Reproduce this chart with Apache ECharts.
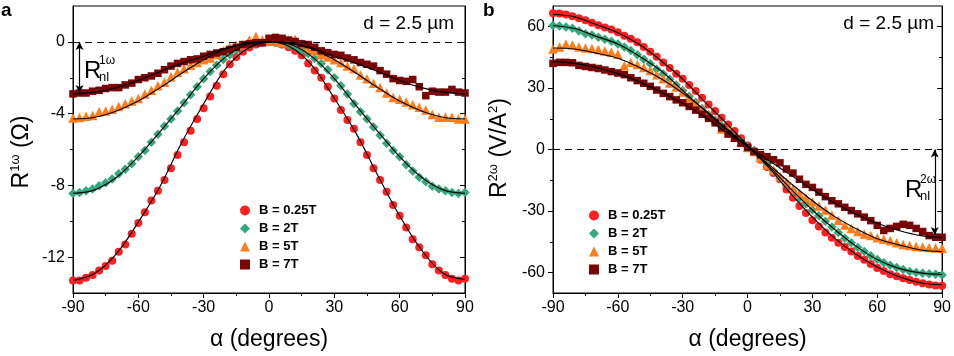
<!DOCTYPE html>
<html><head><meta charset="utf-8">
<script src="https://cdn.jsdelivr.net/npm/echarts@6/dist/echarts.min.js"></script>
<style>html,body{margin:0;padding:0;background:#fff}#c{width:954px;height:356px}</style>
</head><body><div id="c"></div>
<script>
// ---------- data ----------
const angles = [-90,-87,-84,-81,-78,-75,-72,-69,-66,-63,-60,-57,-54,-51,-48,-45,-42,-39,-36,-33,-30,-27,-24,-21,-18,-15,-12,-9,-6,-3,0,3,6,9,12,15,18,21,24,27,30,33,36,39,42,45,48,51,54,57,60,63,66,69,72,75,78,81,84,87,90];
const fitAngles = [-90,-80,-70,-60,-50,-40,-30,-20,-10,0,10,20,30,40,50,60,70,80,90];
const seriesNames = ['B = 0.25T','B = 2T','B = 5T','B = 7T'];
const xTickLabels = [-90,-60,-30,0,30,60,90];
const yTicksA = [-12,-8,-4,0];
const yMinorA = [-10,-6,-2];
const yTicksB = [-60,-30,0,30,60];
const yMinorB = [-45,-15,15,45];

// panel a : R^1w (Ohm)
const a_B025 = [-13.3,-13.3,-13.15,-13.0,-12.75,-12.5,-12.2,-11.7,-11.3,-10.7,-10.1,-9.5,-8.85,-8.3,-7.7,-7.05,-6.3,-5.6,-4.95,-4.3,-3.7,-3.05,-2.45,-1.8,-1.25,-0.85,-0.55,-0.32,-0.15,-0.05,0.0,-0.05,-0.15,-0.3,-0.5,-0.75,-1.2,-1.6,-2.0,-2.5,-3.15,-3.8,-4.35,-4.85,-5.6,-6.3,-7.05,-7.7,-8.35,-9.1,-9.7,-10.35,-11.0,-11.45,-11.9,-12.4,-12.75,-13.0,-13.2,-13.3,-13.2];
const a_B2 = [-8.45,-8.4,-8.3,-8.2,-8.02,-7.85,-7.65,-7.35,-7.1,-6.8,-6.4,-6.05,-5.6,-5.15,-4.7,-4.3,-3.85,-3.4,-2.95,-2.5,-2.05,-1.65,-1.3,-0.98,-0.72,-0.45,-0.25,-0.12,-0.05,0.0,0.0,-0.02,-0.08,-0.18,-0.3,-0.45,-0.65,-0.92,-1.2,-1.55,-2.0,-2.45,-2.9,-3.45,-3.9,-4.3,-4.75,-5.2,-5.65,-6.05,-6.4,-6.85,-7.2,-7.55,-7.8,-8.05,-8.2,-8.3,-8.4,-8.45,-8.4];
const a_B5 = [-4.25,-4.22,-4.15,-4.1,-3.9,-3.85,-3.75,-3.6,-3.45,-3.3,-3.15,-2.9,-2.7,-2.45,-2.25,-1.95,-1.7,-1.5,-1.3,-1.15,-1.0,-0.9,-0.7,-0.5,-0.3,-0.2,-0.15,0.1,0.3,0.1,0.05,0.05,-0.05,0.1,0.15,-0.1,-0.35,-0.5,-0.7,-0.85,-1.0,-1.15,-1.35,-1.5,-1.85,-2.05,-2.3,-2.55,-2.85,-3.1,-3.2,-3.35,-3.5,-3.65,-3.8,-4.05,-4.2,-4.2,-4.2,-4.3,-4.3];
const a_B7 = [-2.9,-2.85,-2.85,-2.75,-2.7,-2.6,-2.55,-2.55,-2.4,-2.3,-2.1,-2.0,-1.9,-1.75,-1.55,-1.35,-1.2,-1.1,-1.0,-0.95,-0.8,-0.7,-0.62,-0.55,-0.42,-0.3,-0.15,-0.1,-0.05,-0.05,0.2,0.25,0.2,0.1,0.02,-0.1,-0.15,-0.3,-0.5,-0.6,-0.7,-0.75,-0.9,-1.0,-1.15,-1.25,-1.35,-1.6,-1.8,-2.05,-2.15,-2.2,-2.1,-2.5,-3.0,-2.75,-2.8,-2.8,-2.65,-2.8,-2.85];
const a_fit025 = [-13.3,-12.9,-11.8,-10.05,-8.05,-5.6,-3.45,-1.5,-0.38,0,-0.3,-1.35,-3.15,-5.1,-7.45,-9.7,-11.6,-12.9,-13.25];
const a_fit2 = [-8.45,-8.25,-7.55,-6.4,-5.0,-3.55,-2.05,-0.85,-0.15,0,-0.15,-0.85,-2.05,-3.55,-5.0,-6.4,-7.55,-8.25,-8.45];
const a_fit5 = [-4.3,-4.2,-3.85,-3.3,-2.55,-1.75,-1.0,-0.4,-0.08,0,-0.08,-0.4,-1.0,-1.75,-2.55,-3.3,-3.85,-4.2,-4.3];
const a_fit7 = [-2.9,-2.8,-2.55,-2.15,-1.65,-1.2,-0.8,-0.35,-0.08,0,-0.08,-0.35,-0.8,-1.2,-1.65,-2.15,-2.55,-2.8,-2.9];

// panel b : R^2w (V/A^2)
const b_B025 = [66.5,66.3,65.8,65.0,64.0,63.0,61.8,60.6,59.5,58.5,57.2,55.5,54.0,52.3,50.0,47.7,45.2,42.5,39.8,37.0,34.5,31.5,28.5,25.2,22.0,18.8,15.5,12.2,9.0,5.5,2.0,-1.0,-5.0,-8.5,-11.5,-14.5,-19.5,-23.5,-27.5,-31.0,-34.5,-37.5,-40.5,-43.0,-45.5,-47.5,-49.8,-52.0,-53.8,-55.8,-57.8,-59.3,-60.8,-61.8,-62.8,-63.6,-64.5,-65.3,-65.9,-66.3,-66.5];
const b_B2 = [60.5,60.2,59.8,59.2,57.8,56.5,55.8,54.8,53.8,52.8,51.5,50.0,48.3,46.2,44.0,41.8,39.2,36.8,34.3,31.5,28.8,26.0,23.0,20.0,17.0,14.5,11.5,9.0,6.5,4.0,1.5,-0.5,-3.5,-7.0,-10.5,-14.0,-17.0,-20.3,-23.5,-26.6,-29.5,-32.3,-35.0,-37.8,-40.5,-43.3,-45.5,-47.8,-49.8,-51.8,-53.7,-55.2,-56.5,-57.6,-58.5,-59.5,-60.0,-60.4,-60.6,-60.8,-61.2];
const b_B5 = [49.0,50.0,51.5,51.0,50.0,49.5,49.3,48.8,48.0,47.5,46.5,40.8,42.5,41.5,40.0,38.5,36.5,34.5,32.5,30.5,28.0,25.3,22.5,19.6,17.0,14.5,10.0,9.5,6.0,3.5,1.0,-1.0,-4.0,-7.5,-10.0,-13.0,-16.0,-19.3,-21.5,-23.5,-25.5,-27.5,-29.5,-32.0,-34.5,-36.8,-38.5,-40.0,-41.2,-42.0,-43.0,-43.8,-44.5,-45.5,-46.3,-46.8,-47.3,-47.6,-47.8,-48.0,-48.2];
const b_B7 = [42.0,42.5,42.5,42.3,41.0,40.5,40.0,39.5,38.8,38.0,37.3,36.5,35.0,33.6,32.3,30.8,29.0,27.4,25.8,24.2,22.8,21.0,19.2,17.2,15.2,13.0,10.5,7.5,5.5,3.0,1.0,-1.0,-2.5,-3.5,-5.0,-6.5,-9.5,-11.5,-14.5,-17.0,-18.5,-20.8,-23.0,-25.0,-26.5,-28.2,-29.8,-31.4,-33.0,-34.7,-37.0,-39.5,-38.5,-37.5,-36.5,-37.0,-38.5,-40.0,-42.0,-42.8,-42.8];
const b_fit025 = [66.0,64.7,61.0,57.0,51.2,43.3,34.3,23.5,13.0,2.0,-9.0,-21.5,-33.0,-43.0,-51.0,-57.3,-62.0,-65.0,-66.0];
const b_fit2 = [60.5,59.0,55.2,51.5,45.5,38.4,28.8,19.2,9.8,1.5,-8.2,-19.2,-29.5,-38.7,-47.0,-53.7,-58.0,-60.2,-61.0];
const b_fit5 = [49.5,49.0,47.0,44.5,40.0,34.5,27.5,19.5,10.5,1.5,-7.5,-16.5,-25.0,-32.5,-38.5,-43.5,-46.5,-49.0,-49.8];
const b_fit7 = [43.0,42.0,40.0,37.0,33.0,28.0,22.5,16.0,8.5,1.5,-5.5,-12.5,-19.5,-26.0,-31.5,-36.0,-39.5,-42.0,-43.0];

// annotation values (R_nl arrows)
const a_Rnl = {x:-87, top:0, bottom:-2.85};
const b_Rnl = {x:86.6, top:0, bottom:-41.7};

// ---------- styling ----------
const FONT = '"Liberation Sans", Arial, sans-serif';
const colors = ['#ff1f1f','#33a87d','#ff7d1a','#7a0606'];
const symbols = ['circle','diamond','triangle','rect'];
const symSizes = [8,9.5,9.5,7.5];

const pair = (xs, ys) => xs.map((x,i)=>[x, ys[i]]);

function xAx(g){
  return {gridIndex:g,type:'value',min:-90,max:90,interval:30,position:'bottom',
    axisLine:{show:true,onZero:false,lineStyle:{color:'#000',width:1}},
    axisTick:{show:true,length:5,lineStyle:{color:'#000'}},
    minorTick:{show:true,splitNumber:2,length:3,lineStyle:{color:'#000'}},
    axisLabel:{fontSize:16,color:'#000',margin:7,fontFamily:FONT},
    splitLine:{show:false},minorSplitLine:{show:false},
    name:'α (degrees)',nameLocation:'middle',nameGap:35,
    nameTextStyle:{fontSize:23,color:'#000',fontFamily:FONT}};
}
function yAxes(g,min,max,major,minor){
  const base = {gridIndex:g,type:'value',min:min,max:max,splitLine:{show:false}};
  return [
    Object.assign({},base,{position:'left',axisLine:{show:true,onZero:false,lineStyle:{color:'#000'}},
      axisTick:{show:true,length:5,customValues:major,lineStyle:{color:'#000'}},
      axisLabel:{show:true,customValues:major,fontSize:16,color:'#000',margin:8,fontFamily:FONT}}),
    Object.assign({},base,{position:'left',axisLine:{show:false,onZero:false},
      axisTick:{show:true,length:3,customValues:minor,lineStyle:{color:'#000'}},
      axisLabel:{show:false}}),
    Object.assign({},base,{position:'right',axisLine:{show:true,onZero:false,lineStyle:{color:'#000'}},
      axisTick:{show:true,inside:true,length:5,customValues:major,lineStyle:{color:'#000'}},
      axisLabel:{show:false}}),
    Object.assign({},base,{position:'right',axisLine:{show:false,onZero:false},
      axisTick:{show:true,inside:true,length:3,customValues:minor,lineStyle:{color:'#000'}},
      axisLabel:{show:false}})
  ];
}

function scatter(name,data,i,xi,yi){
  return {name:name,type:'scatter',xAxisIndex:xi,yAxisIndex:yi,data:data,
    symbol:symbols[i],symbolSize:symSizes[i],itemStyle:{color:colors[i],opacity:1},z:3,silent:true};
}
function fit(name,data,xi,yi,extra){
  return Object.assign({name:name,type:'line',xAxisIndex:xi,yAxisIndex:yi,data:data,
    smooth:0.35,showSymbol:false,symbol:'none',
    lineStyle:{color:'#000',width:1.15},z:5,silent:true},extra||{});
}
function refLines(rnl){
  return {markLine:{silent:true,animation:false,label:{show:false},
    data:[
      [{coord:[-90,0],symbol:'none',lineStyle:{type:[7,5],color:'#000',width:1.2}},{coord:[90,0],symbol:'none'}],
      [{coord:[rnl.x,rnl.top],symbol:'arrow',symbolSize:[6,8],lineStyle:{type:'solid',color:'#000',width:1.2}},
       {coord:[rnl.x,rnl.bottom],symbol:'arrow',symbolSize:[6,8]}]
    ]}};
}

const aVals = [a_B025,a_B2,a_B5,a_B7];
const aFits = [a_fit025,a_fit2,a_fit5,a_fit7];
const bVals = [b_B025,b_B2,b_B5,b_B7];
const bFits = [b_fit025,b_fit2,b_fit5,b_fit7];

const series = [];
seriesNames.forEach((n,i)=>series.push(scatter(n,pair(angles,aVals[i]),i,0,0)));
seriesNames.forEach((n,i)=>series.push(fit('fit a '+n,pair(fitAngles,aFits[i]),0,0,i===3?refLines(a_Rnl):null)));
seriesNames.forEach((n,i)=>series.push(scatter(n,pair(angles,bVals[i]),i,1,4)));
seriesNames.forEach((n,i)=>series.push(fit('fit b '+n,pair(fitAngles,bFits[i]),1,4,i===3?refLines(b_Rnl):null)));

function legend(left,top){
  return {data:seriesNames.map((n,i)=>({name:n,icon:symbols[i],itemStyle:{color:colors[i]}})),
    orient:'vertical',left:left,top:top,itemWidth:10,itemHeight:10,itemGap:5,
    selectedMode:false,
    textStyle:{fontSize:13,fontWeight:'bold',color:'#000',fontFamily:FONT,padding:[0,0,0,4]}};
}

const txt = (o) => ({type:'text',z:100,silent:true,style:Object.assign({fill:'#000',fontFamily:FONT},o.style),x:o.x,y:o.y,rotation:o.rotation||0});

const option = {
  animation:false,
  backgroundColor:'#fff',
  textStyle:{fontFamily:FONT},
  grid:[
    {left:73,top:6,width:392,height:288,show:true,borderColor:'#000',borderWidth:1,backgroundColor:'transparent'},
    {left:553,top:6,width:392,height:288,show:true,borderColor:'#000',borderWidth:1,backgroundColor:'transparent'}
  ],
  xAxis:[xAx(0),xAx(1)],
  yAxis:[].concat(yAxes(0,-14,2,yTicksA,yMinorA),yAxes(1,-70,70,yTicksB,yMinorB)),
  legend:[legend(235,199),legend(584,204)],
  series:series,
  graphic:[
    txt({x:1,y:11,style:{text:'a',fontSize:19,fontWeight:'bold',verticalAlign:'middle'}}),
    txt({x:483,y:11,style:{text:'b',fontSize:19,fontWeight:'bold',verticalAlign:'middle'}}),
    txt({x:454,y:24,style:{text:'d = 2.5 µm',fontSize:19,align:'right',verticalAlign:'middle'}}),
    txt({x:934,y:24,style:{text:'d = 2.5 µm',fontSize:19,align:'right',verticalAlign:'middle'}}),
    txt({x:22,y:152,rotation:Math.PI/2,style:{text:'{r|R}{s|1ω}{r| (Ω)}',align:'center',verticalAlign:'middle',
      rich:{r:{fontSize:23,lineHeight:26,fill:'#000',fontFamily:FONT},s:{fontSize:13,lineHeight:13,verticalAlign:'top',fill:'#000',fontFamily:FONT}}}}),
    txt({x:500,y:148,rotation:Math.PI/2,style:{text:'{r|R}{s|2ω}{r| (V/A}{s|2}{r|)}',align:'center',verticalAlign:'middle',
      rich:{r:{fontSize:23,lineHeight:26,fill:'#000',fontFamily:FONT},s:{fontSize:13,lineHeight:13,verticalAlign:'top',fill:'#000',fontFamily:FONT}}}}),
    txt({x:84,y:71,style:{text:'R',fontSize:24,verticalAlign:'middle'}}),
    txt({x:99,y:61,style:{text:'1ω',fontSize:12,verticalAlign:'middle'}}),
    txt({x:99,y:77,style:{text:'nl',fontSize:13,verticalAlign:'middle'}}),
    txt({x:905,y:190,style:{text:'R',fontSize:24,verticalAlign:'middle'}}),
    txt({x:920,y:180,style:{text:'2ω',fontSize:12,verticalAlign:'middle'}}),
    txt({x:920,y:196,style:{text:'nl',fontSize:13,verticalAlign:'middle'}})
  ]
};
const chart = echarts.init(document.getElementById('c'),null,{renderer:'canvas'});
chart.setOption(option);
</script></body></html>
